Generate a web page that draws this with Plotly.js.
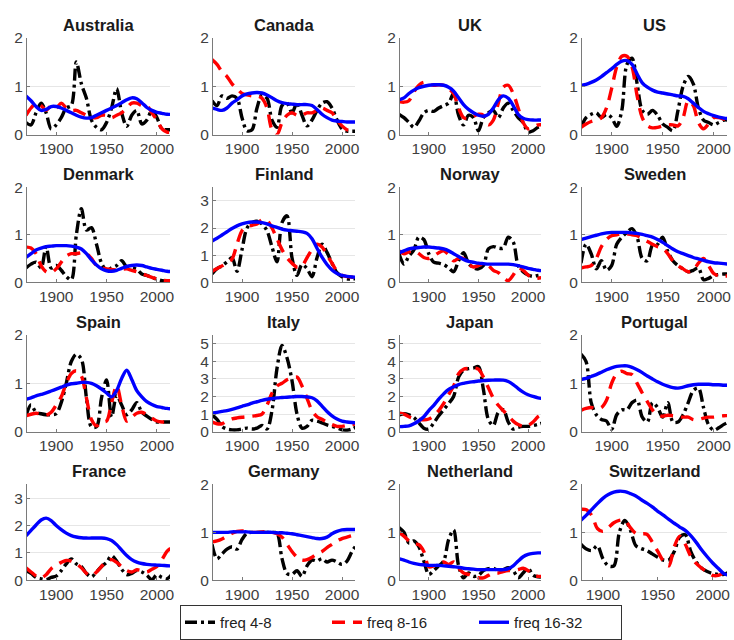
<!DOCTYPE html>
<html>
<head>
<meta charset="utf-8">
<script src="https://cdn.plot.ly/plotly-3.0.1.min.js"></script>
<style>
  html, body { margin: 0; padding: 0; background: #ffffff; }
  #chart { width: 734px; height: 640px; }
</style>
</head>
<body>
<div id="chart"></div>
<script>
// Sample years shared by every series (5-year steps)
const years = [1870,1875,1880,1885,1890,1895,1900,1905,1910,1915,1920,1925,1930,1935,1940,
               1945,1950,1955,1960,1965,1970,1975,1980,1985,1990,1995,2000,2005,2010,2015];

// Band amplitudes per country: freq 4-8, freq 8-16, freq 16-32
const australia_4_8   = [0.25,0.2,0.45,0.65,0.45,0.12,0.2,0.35,0.55,0.6,1.5,1.05,0.75,0.3,0.15,0.1,0.25,0.55,0.95,0.45,0.17,0.4,0.5,0.22,0.3,0.5,0.35,0.12,0.1,0.1];
const australia_8_16  = [0.4,0.55,0.65,0.6,0.5,0.6,0.55,0.65,0.55,0.5,0.5,0.45,0.4,0.35,0.35,0.4,0.4,0.35,0.4,0.45,0.55,0.65,0.65,0.6,0.6,0.45,0.3,0.12,0.05,0.05];
const australia_16_32 = [0.8,0.7,0.58,0.5,0.52,0.58,0.58,0.55,0.5,0.45,0.4,0.36,0.34,0.35,0.4,0.45,0.5,0.55,0.6,0.66,0.72,0.76,0.74,0.66,0.56,0.5,0.46,0.44,0.42,0.42];

const canada_4_8   = [0.7,0.6,0.8,0.75,0.8,0.75,0.35,0.08,0.1,0.55,0.82,0.75,0.3,0.15,0.6,0.65,0.45,0.65,0.4,0.18,0.3,0.5,0.65,0.68,0.55,0.3,0.12,0.07,0.07,0.07];
const canada_8_16  = [1.55,1.45,1.3,1.2,1.05,0.95,0.85,0.82,0.8,0.8,0.75,0.55,0.1,0.0,0.25,0.4,0.45,0.4,0.4,0.45,0.45,0.5,0.55,0.5,0.45,0.3,0.18,0.1,0.08,0.08];
const canada_16_32 = [0.55,0.52,0.5,0.55,0.65,0.72,0.8,0.84,0.86,0.87,0.86,0.82,0.76,0.7,0.66,0.64,0.63,0.62,0.62,0.62,0.6,0.52,0.42,0.35,0.3,0.28,0.27,0.26,0.26,0.26];

const uk_4_8   = [0.42,0.35,0.25,0.15,0.28,0.45,0.5,0.48,0.55,0.6,0.65,0.85,0.4,0.2,0.4,0.35,0.08,0.35,0.45,0.5,0.35,0.55,0.65,0.5,0.35,0.25,0.05,0.08,0.15,0.18];
const uk_8_16  = [0.68,0.67,0.7,0.88,1.02,1.08,1.05,1.02,1.03,1.02,0.95,0.85,0.55,0.35,0.33,0.38,0.42,0.4,0.2,0.3,0.65,0.98,1.02,0.85,0.55,0.25,0.12,0.15,0.2,0.2];
const uk_16_32 = [0.72,0.76,0.85,0.92,0.97,1.0,1.02,1.03,1.03,1.02,0.98,0.9,0.76,0.62,0.52,0.45,0.4,0.38,0.42,0.55,0.72,0.8,0.75,0.6,0.42,0.34,0.31,0.3,0.3,0.3];

const us_4_8   = [0.15,0.35,0.42,0.45,0.35,0.42,0.35,0.17,0.5,1.45,1.58,1.05,0.5,0.42,0.5,0.4,0.22,0.15,0.08,0.5,1.0,1.2,1.05,0.55,0.3,0.25,0.2,0.25,0.3,0.3];
const us_8_16  = [0.15,0.22,0.27,0.3,0.35,0.55,0.95,1.4,1.62,1.62,1.4,0.8,0.35,0.18,0.14,0.15,0.18,0.2,0.2,0.18,0.35,0.7,0.6,0.25,0.12,0.22,0.35,0.35,0.32,0.3];
const us_16_32 = [1.02,1.04,1.08,1.13,1.2,1.28,1.36,1.45,1.52,1.53,1.45,1.25,1.07,0.98,0.92,0.88,0.86,0.84,0.82,0.8,0.79,0.74,0.65,0.56,0.48,0.43,0.39,0.36,0.34,0.33];

const denmark_4_8   = [0.3,0.38,0.42,0.3,0.75,0.3,0.35,0.25,0.12,0.05,1.0,1.55,1.1,1.15,0.8,0.4,0.25,0.3,0.35,0.45,0.32,0.3,0.27,0.17,0.14,0.1,0.06,0.03,0.02,0.02];
const denmark_8_16  = [0.74,0.72,0.6,0.35,0.22,0.2,0.28,0.42,0.55,0.6,0.6,0.62,0.6,0.5,0.35,0.3,0.28,0.27,0.25,0.27,0.28,0.25,0.22,0.18,0.14,0.1,0.07,0.04,0.03,0.03];
const denmark_16_32 = [0.52,0.6,0.68,0.72,0.75,0.76,0.77,0.77,0.77,0.76,0.74,0.7,0.6,0.47,0.36,0.28,0.24,0.23,0.25,0.29,0.33,0.35,0.36,0.35,0.32,0.29,0.27,0.25,0.23,0.22];

const finland_4_8   = [0.3,0.5,0.6,0.75,0.9,0.4,1.2,2.0,2.2,2.25,2.15,1.9,1.3,0.75,2.2,2.45,0.9,0.25,0.65,0.5,0.2,0.9,1.4,1.1,0.7,0.35,0.2,0.12,0.12,0.12];
const finland_8_16  = [0.4,0.5,0.6,0.72,0.85,1.4,1.9,2.05,2.1,2.15,2.3,2.28,2.0,1.6,1.2,0.9,0.7,0.55,0.6,0.9,1.2,1.4,1.3,1.0,0.7,0.4,0.25,0.2,0.18,0.18];
const finland_16_32 = [1.52,1.62,1.74,1.86,1.98,2.08,2.15,2.2,2.22,2.22,2.2,2.15,2.08,2.02,1.96,1.92,1.9,1.88,1.86,1.8,1.6,1.25,0.92,0.65,0.45,0.32,0.25,0.21,0.19,0.18];

const norway_4_8   = [0.6,0.38,0.55,0.68,0.95,0.9,0.6,0.42,0.4,0.37,0.3,0.22,0.45,0.62,0.4,0.3,0.28,0.35,0.7,0.75,0.72,0.72,0.95,0.85,0.35,0.22,0.15,0.12,0.14,0.15];
const norway_8_16  = [0.66,0.6,0.64,0.66,0.6,0.52,0.5,0.55,0.62,0.66,0.58,0.45,0.5,0.5,0.38,0.32,0.35,0.38,0.35,0.25,0.2,0.1,0.03,0.15,0.3,0.25,0.15,0.08,0.08,0.1];
const norway_16_32 = [0.62,0.66,0.7,0.72,0.73,0.74,0.74,0.73,0.72,0.7,0.66,0.6,0.54,0.48,0.44,0.42,0.4,0.39,0.38,0.38,0.38,0.38,0.38,0.37,0.35,0.32,0.29,0.27,0.25,0.24];

const sweden_4_8   = [0.4,0.8,0.6,0.28,0.45,0.25,0.35,0.8,0.95,1.05,1.13,0.95,0.5,0.45,0.78,0.8,0.95,0.65,0.45,0.35,0.28,0.22,0.25,0.3,0.05,0.08,0.14,0.16,0.17,0.17];
const sweden_8_16  = [0.3,0.32,0.35,0.5,0.75,0.9,0.98,1.0,1.02,1.02,1.0,0.98,0.92,0.86,0.8,0.75,0.72,0.6,0.45,0.35,0.28,0.22,0.25,0.4,0.5,0.35,0.18,0.13,0.13,0.13];
const sweden_16_32 = [0.9,0.93,0.96,0.99,1.02,1.04,1.05,1.05,1.05,1.05,1.04,1.03,1.01,0.98,0.95,0.9,0.84,0.77,0.7,0.64,0.6,0.56,0.52,0.49,0.46,0.43,0.41,0.4,0.39,0.38];

const spain_4_8   = [0.33,0.55,0.4,0.37,0.35,0.35,0.37,0.6,1.0,1.45,1.6,1.5,0.7,0.1,0.1,0.7,1.07,0.3,0.75,0.55,0.35,0.45,0.6,0.4,0.32,0.25,0.2,0.2,0.2,0.2];
const spain_8_16  = [0.33,0.36,0.38,0.36,0.34,0.4,0.55,0.72,1.0,1.2,1.26,1.15,0.7,0.25,0.12,0.2,0.22,0.6,0.95,0.55,0.22,0.3,0.38,0.4,0.35,0.28,0.22,0.2,0.2,0.2];
const spain_16_32 = [0.67,0.7,0.74,0.77,0.8,0.84,0.88,0.92,0.96,0.99,1.0,1.02,1.02,1.0,0.95,0.88,0.8,0.72,0.85,1.1,1.27,1.08,0.85,0.72,0.62,0.56,0.52,0.5,0.48,0.47];

const italy_4_8   = [0.95,0.7,0.3,0.15,0.1,0.1,0.15,0.2,0.15,0.2,0.35,0.15,1.2,3.6,4.9,4.2,2.9,1.0,0.2,0.3,0.65,0.6,0.5,0.38,0.3,0.22,0.1,0.08,0.15,0.3];
const italy_8_16  = [0.55,0.45,0.45,0.6,0.72,0.78,0.82,0.85,0.88,0.92,1.0,1.5,2.2,2.6,2.75,2.95,3.05,3.1,2.6,1.9,1.2,0.85,0.7,0.55,0.4,0.3,0.3,0.35,0.4,0.45];
const italy_16_32 = [1.05,1.1,1.15,1.2,1.27,1.35,1.44,1.52,1.62,1.7,1.78,1.84,1.88,1.92,1.94,1.96,1.98,2.0,2.0,1.98,1.93,1.75,1.45,1.15,0.9,0.72,0.6,0.55,0.52,0.5];

const japan_4_8   = [0.95,1.02,0.95,0.8,0.5,0.2,0.15,0.5,0.9,1.25,1.6,2.0,3.1,3.5,3.58,3.62,3.7,2.4,0.7,0.35,1.1,1.25,0.55,0.15,0.25,0.3,0.3,0.35,0.42,0.5];
const japan_8_16  = [1.05,1.0,0.85,0.75,0.7,0.67,0.72,0.9,1.2,1.6,2.1,2.6,3.3,3.55,3.6,3.62,3.55,3.1,2.5,1.9,1.5,1.2,0.9,0.6,0.4,0.3,0.35,0.55,0.85,1.0];
const japan_16_32 = [0.28,0.3,0.33,0.45,0.62,0.85,1.2,1.5,1.85,2.15,2.4,2.55,2.68,2.75,2.8,2.84,2.88,2.9,2.92,2.93,2.94,2.93,2.85,2.68,2.45,2.25,2.1,2.0,1.92,1.88];

const portugal_4_8   = [1.6,1.45,0.6,0.35,0.25,0.22,0.05,0.35,0.45,0.45,0.6,0.65,0.3,0.2,0.6,0.5,0.3,0.6,0.2,0.2,0.35,0.6,0.85,0.9,0.5,0.14,0.03,0.08,0.15,0.2];
const portugal_8_16  = [0.44,0.48,0.5,0.48,0.5,0.65,1.0,1.2,1.25,1.2,1.18,1.0,0.8,0.62,0.45,0.35,0.32,0.34,0.33,0.32,0.3,0.3,0.25,0.25,0.28,0.3,0.3,0.32,0.33,0.33];
const portugal_16_32 = [1.08,1.1,1.14,1.18,1.23,1.28,1.32,1.35,1.36,1.36,1.33,1.28,1.22,1.15,1.09,1.03,0.98,0.94,0.91,0.9,0.92,0.95,0.97,0.98,0.98,0.98,0.97,0.97,0.96,0.96];

const france_4_8   = [0.35,0.25,0.1,0.05,0.02,0.1,0.15,0.35,0.6,0.78,0.6,0.5,0.25,0.12,0.3,0.5,0.65,0.9,0.7,0.4,0.2,0.25,0.35,0.3,0.18,0.02,0.2,0.1,0.05,0.22];
const france_8_16  = [0.45,0.3,0.15,0.08,0.2,0.42,0.55,0.65,0.72,0.7,0.6,0.45,0.25,0.15,0.3,0.5,0.7,0.75,0.65,0.5,0.35,0.3,0.38,0.35,0.3,0.4,0.5,0.75,1.05,1.2];
const france_16_32 = [1.62,1.82,2.02,2.2,2.27,2.18,2.0,1.85,1.72,1.63,1.58,1.55,1.54,1.54,1.54,1.54,1.52,1.45,1.3,1.1,0.9,0.75,0.66,0.61,0.58,0.56,0.55,0.54,0.53,0.52];

const germany_4_8   = [0.75,0.45,0.55,0.65,0.7,0.65,0.85,0.98,1.0,1.0,1.0,1.0,1.0,0.98,0.45,0.14,0.12,0.2,0.08,0.3,0.42,0.4,0.45,0.38,0.42,0.38,0.33,0.4,0.6,0.75];
const germany_8_16  = [0.8,0.82,0.86,0.92,0.98,1.02,1.03,1.02,1.0,1.0,1.01,1.01,1.0,0.97,0.9,0.75,0.6,0.48,0.42,0.43,0.48,0.55,0.6,0.68,0.75,0.82,0.87,0.9,0.93,0.94];
const germany_16_32 = [1.0,1.0,1.0,1.0,1.01,1.01,1.01,1.01,1.0,1.0,1.0,1.0,1.0,0.99,0.99,0.98,0.97,0.95,0.93,0.91,0.89,0.87,0.87,0.9,0.97,1.02,1.05,1.06,1.06,1.06];

const netherland_4_8   = [1.1,1.0,0.78,0.82,0.7,0.4,0.12,0.2,0.3,0.4,0.85,1.05,0.3,0.05,0.15,0.08,0.1,0.2,0.24,0.25,0.2,0.22,0.26,0.2,0.05,0.15,0.25,0.1,0.07,0.07];
const netherland_8_16  = [1.0,0.92,0.82,0.76,0.74,0.6,0.28,0.3,0.35,0.38,0.33,0.38,0.25,0.15,0.12,0.08,0.05,0.05,0.1,0.15,0.15,0.18,0.2,0.2,0.22,0.25,0.2,0.1,0.08,0.08];
const netherland_16_32 = [0.45,0.42,0.38,0.35,0.33,0.32,0.31,0.31,0.31,0.3,0.29,0.28,0.27,0.25,0.24,0.23,0.22,0.22,0.22,0.22,0.22,0.22,0.24,0.3,0.4,0.49,0.54,0.56,0.57,0.57];

const switzerland_4_8   = [null,null,0.75,0.65,0.62,0.72,0.45,0.3,0.3,1.0,1.25,1.05,0.72,0.66,0.62,0.55,0.48,0.42,0.42,0.6,0.9,0.95,0.6,0.38,0.25,0.18,0.14,0.12,0.12,0.17];
const switzerland_8_16  = [null,null,1.48,1.47,1.35,1.08,1.02,1.1,1.2,1.25,1.25,1.1,0.98,0.97,0.96,0.8,0.6,0.4,0.3,0.7,0.92,0.75,0.5,0.35,0.25,0.17,0.1,0.1,0.15,0.2];
const switzerland_16_32 = [null,null,1.25,1.36,1.48,1.6,1.71,1.79,1.84,1.86,1.85,1.81,1.76,1.68,1.61,1.53,1.44,1.36,1.27,1.19,1.11,1.04,0.93,0.79,0.63,0.49,0.36,0.25,0.14,0.1];

// Panel titles in reading order, and the bands drawn in each panel
const countries = ["Australia","Canada","UK","US","Denmark","Finland","Norway","Sweden",
                   "Spain","Italy","Japan","Portugal","France","Germany","Netherland","Switzerland"];
const bands = [
  [australia_4_8, australia_8_16, australia_16_32],
  [canada_4_8, canada_8_16, canada_16_32],
  [uk_4_8, uk_8_16, uk_16_32],
  [us_4_8, us_8_16, us_16_32],
  [denmark_4_8, denmark_8_16, denmark_16_32],
  [finland_4_8, finland_8_16, finland_16_32],
  [norway_4_8, norway_8_16, norway_16_32],
  [sweden_4_8, sweden_8_16, sweden_16_32],
  [spain_4_8, spain_8_16, spain_16_32],
  [italy_4_8, italy_8_16, italy_16_32],
  [japan_4_8, japan_8_16, japan_16_32],
  [portugal_4_8, portugal_8_16, portugal_16_32],
  [france_4_8, france_8_16, france_16_32],
  [germany_4_8, germany_8_16, germany_16_32],
  [netherland_4_8, netherland_8_16, netherland_16_32],
  [switzerland_4_8, switzerland_8_16, switzerland_16_32]
];
const seriesNames = ["freq 4-8", "freq 8-16", "freq 16-32"];
const yMax = [2,2,2,2, 2,3.5,2,2, 2,5.5,5.5,2, 3.5,2,2,2];
const xTicks = [1900, 1950, 2000];

// ---- layout geometry (pixels) ----
const W = 734, H = 640;
const colLeft  = [27, 213, 400, 582];
const colRight = [170, 355, 541, 727];
const rowTop    = [38, 188, 336, 486];
const rowBottom = [135, 283, 433, 582];
const xStart = [1871,1871,1871,1871, 1871,1871,1871,1871, 1871,1871,1871,1871, 1871,1871,1871,1881];
const xEnd = 2013;

const lineStyles = [
  {color: "#000000", width: 3.4, dash: "12px,4px,3px,4px"},
  {color: "#ff0000", width: 3.4, dash: "13px,8px"},
  {color: "#0000ff", width: 3.4, dash: "solid"}
];

const traces = [];
const layout = {
  width: W, height: H,
  margin: {l: 0, r: 0, t: 0, b: 0},
  paper_bgcolor: "#ffffff",
  plot_bgcolor: "#ffffff",
  font: {family: "Liberation Sans, Arial, sans-serif", color: "#404040"},
  showlegend: true,
  legend: {
    orientation: "h",
    x: 180 / W, xanchor: "left",
    y: 1 - 607 / H, yanchor: "top",
    bordercolor: "#333333", borderwidth: 1,
    font: {size: 15, color: "#222222"},
    entrywidth: 102,
    tracegroupgap: 0
  },
  annotations: []
};

countries.forEach((name, i) => {
  const r = Math.floor(i / 4), c = i % 4;
  const n = i + 1;
  const xa = n === 1 ? "x" : "x" + n;
  const ya = n === 1 ? "y" : "y" + n;
  bands[i].forEach((vals, k) => {
    traces.push({
      type: "scatter", mode: "lines",
      x: years, y: vals,
      xaxis: xa, yaxis: ya,
      name: seriesNames[k],
      legendgroup: seriesNames[k],
      showlegend: i === 0,
      connectgaps: false,
      line: Object.assign({shape: "spline", smoothing: 0.9}, lineStyles[k]),
      hoverinfo: "skip"
    });
  });
  const yTicks = [];
  for (let t = 0; t <= yMax[i] + 1e-9; t++) yTicks.push(t);
  layout["xaxis" + (n === 1 ? "" : n)] = {
    domain: [colLeft[c] / W, colRight[c] / W],
    anchor: ya,
    range: [xStart[i], xEnd],
    tickvals: xTicks,
    ticktext: xTicks.map(String),
    showline: true, linecolor: "#7a7a7a", linewidth: 1,
    ticks: "inside", ticklen: 3, tickcolor: "#7a7a7a",
    showgrid: false, zeroline: false,
    tickfont: {size: 15.5, color: "#404040"}
  };
  layout["yaxis" + (n === 1 ? "" : n)] = {
    domain: [1 - rowBottom[r] / H, 1 - rowTop[r] / H],
    anchor: xa,
    range: [0, yMax[i]],
    tickvals: yTicks,
    showline: true, linecolor: "#7a7a7a", linewidth: 1,
    ticks: "inside", ticklen: 3, tickcolor: "#7a7a7a",
    showgrid: true, gridcolor: "#e6e6e6", gridwidth: 1,
    zeroline: false,
    tickfont: {size: 15.5, color: "#404040"}
  };
  layout.annotations.push({
    xref: "paper", yref: "paper",
    x: (colLeft[c] + colRight[c]) / 2 / W,
    y: 1 - rowTop[r] / H,
    xanchor: "center", yanchor: "bottom", yshift: 2,
    showarrow: false,
    text: "<b>" + name + "</b>",
    font: {size: 16.5, color: "#1a1a1a", family: "Liberation Sans, Arial, sans-serif"}
  });
});

Plotly.newPlot("chart", traces, layout, {staticPlot: true, displayModeBar: false});
</script>
</body>
</html>
